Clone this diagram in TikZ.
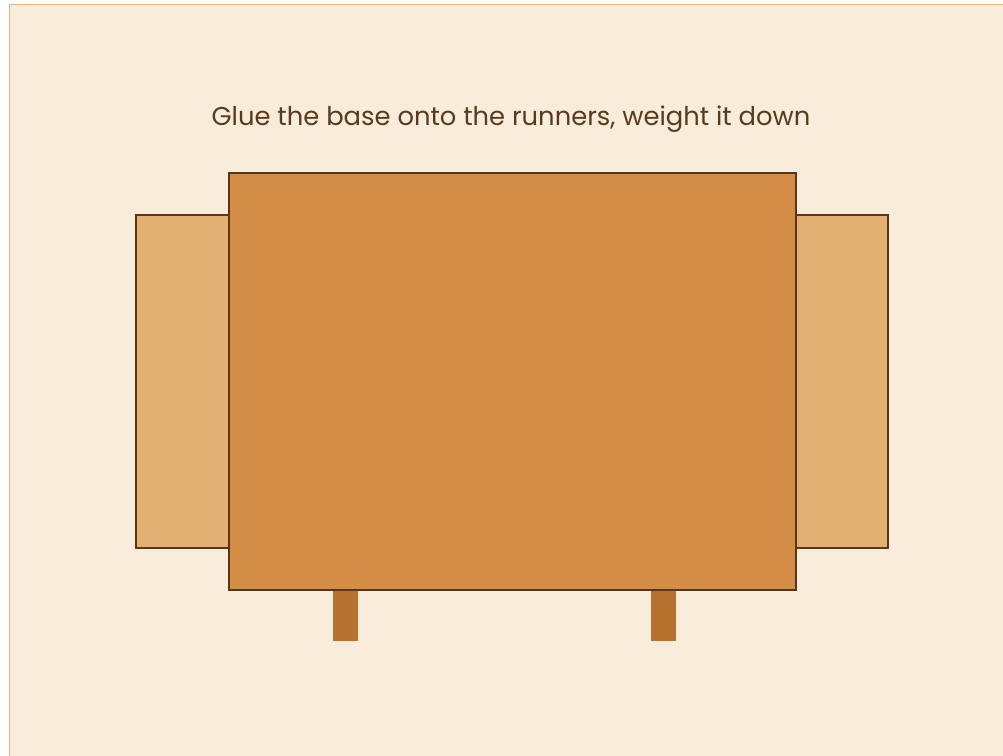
\documentclass[tikz,border=0pt]{standalone}
\usepackage{fontspec}
\setmainfont{Poppins}
\definecolor{bg}{HTML}{F8EDDB}
\definecolor{bgline}{HTML}{E2B48E}
\definecolor{runner}{HTML}{E2B073}
\definecolor{base}{HTML}{D38D45}
\definecolor{leg}{HTML}{B87230}
\definecolor{stroke}{HTML}{5A3518}
\definecolor{txt}{HTML}{5A3A1E}
\tikzset{
  part/.style={draw=stroke, line width=2.4pt},
  legpart/.style={fill=leg, draw=none},
}
\begin{document}
\begin{tikzpicture}[x=1pt,y=-1pt]
\useasboundingbox (0,0) rectangle (1003,755);
\fill[white] (0,0) rectangle (1003,755);
\fill[bg] (9.5,4) rectangle (1010,760);
\draw[bgline, line width=1pt] (9.5,760) -- (9.5,4) -- (1010,4);
\node[text=txt, font=\fontsize{25.8}{30}\selectfont, inner sep=0pt] (title) at (511,119) {Glue the base onto the runners, weight it down};
\draw[part, fill=runner] (136,215) rectangle (229,548);
\draw[part, fill=runner] (796,215) rectangle (888,548);
\fill[legpart] (333,588) rectangle (358,641);
\fill[legpart] (651,588) rectangle (676,641);
\draw[part, fill=base] (229,173) rectangle (796,590);
\end{tikzpicture}
\end{document}
